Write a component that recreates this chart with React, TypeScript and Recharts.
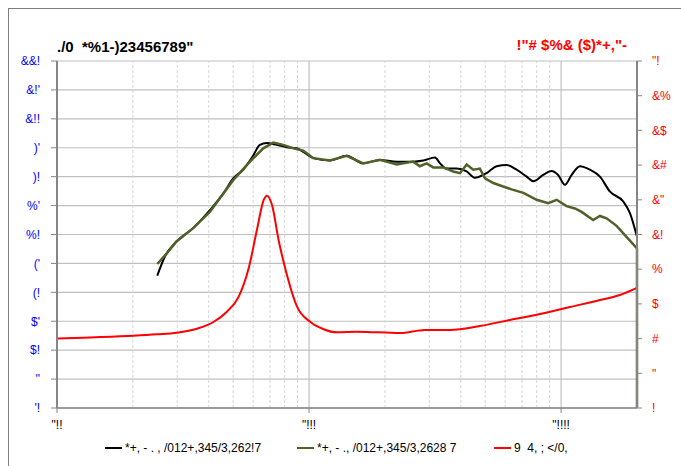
import React from "react";
import {
  CartesianGrid,
  ComposedChart,
  Line,
  ReferenceLine,
  XAxis,
  YAxis,
} from "recharts";

// frequency axis (log) ticks and their labels as shown
const xTicks = [100, 1000, 10000];
const xTickLabels = ['"!!', '"!!!', '"!!!!'];
const xMinor = [200, 300, 400, 500, 600, 700, 800, 900, 2000, 3000, 4000, 5000, 6000, 7000, 8000, 9000];

// left axis (level)
const leftTicks = [50, 55, 60, 65, 70, 75, 80, 85, 90, 95, 100, 105, 110];
const leftTickLabels = ["'!", "''", "$!", "$'", "(!", "('", "%!", "%'", ")!", ")'", "&!!", "&!'", "&&!"];

// right axis (impedance)
const rightTicks = [0, 2, 4, 6, 8, 10, 12, 14, 16, 18, 20];
const rightTickLabels = ["!", '"', "#", "$", "%", "&!", '&"', "&#", "&$", "&%", '"!'];

// series 1 (black)
const freqBlack = [250, 268, 298, 347, 404, 457, 500, 548, 601, 638, 679, 743, 815, 893, 948, 1040, 1210, 1410, 1640, 1910, 2230, 2590, 2840, 3160, 3310, 3510, 3850, 4220, 4550, 5060, 5550, 6080, 6660, 7300, 7750, 8490, 9160, 9730, 10350, 11010, 11880, 13010, 14260, 15630, 17640, 18750, 20000];
const splBlack = [72.9, 76.2, 78.8, 81.1, 84.2, 87.1, 89.7, 91.2, 93.7, 95.5, 95.8, 95.5, 95.1, 94.9, 94.3, 93.2, 92.8, 93.6, 92.3, 92.9, 92.6, 92.6, 92.8, 93.3, 92.3, 91.4, 91.4, 90.9, 89.8, 90.6, 91.8, 92.0, 91.2, 90.0, 89.2, 90.3, 91.0, 90.3, 88.6, 90.3, 91.8, 91.2, 90.0, 87.4, 85.7, 83.7, 79.6];

// series 2 (olive), last point drops to the floor
const freqGreen = [250, 272, 298, 347, 404, 500, 583, 658, 721, 790, 866, 948, 1040, 1210, 1410, 1640, 1910, 2230, 2590, 2750, 2930, 3110, 3410, 3730, 3970, 4220, 4480, 4760, 4990, 5380, 5890, 6360, 7080, 8000, 8890, 9600, 10510, 11340, 12060, 13400, 14260, 15150, 16600, 17910, 20000, 20000];
const splGreen = [74.9, 76.7, 78.8, 81.1, 83.9, 89.4, 92.6, 94.9, 95.9, 95.5, 94.9, 94.5, 93.2, 92.8, 93.6, 92.3, 92.9, 92.1, 92.6, 91.8, 92.3, 91.6, 91.6, 90.9, 90.6, 92.1, 91.2, 91.4, 89.7, 88.9, 88.3, 87.8, 87.2, 86.0, 85.4, 86.0, 84.9, 84.5, 83.9, 82.5, 83.2, 82.8, 81.5, 79.9, 77.6, 50];

// series 3 (red, right axis)
const freqImp = [100, 136, 201, 249, 299, 359, 419, 472, 526, 576, 621, 661, 681, 713, 757, 817, 896, 1010, 1143, 1291, 1549, 2294, 2882, 3623, 4760, 6265, 8240, 10830, 14260, 17100, 20000];
const imp = [4.0, 4.07, 4.17, 4.25, 4.34, 4.57, 4.97, 5.55, 6.42, 8.05, 10.26, 11.99, 12.24, 11.7, 9.68, 7.67, 5.84, 4.97, 4.54, 4.36, 4.4, 4.32, 4.5, 4.5, 4.73, 5.07, 5.42, 5.82, 6.22, 6.51, 6.92];

const leftTitle = "./0  *%1-)23456789\"";
const rightTitle = '!"# $%& ($)*+,"-';
const legendNames = ["*+, - . , /012+,345/3,262!7", "*+, - ., /012+,345/3,2628 7", "9  4, ; </0,"];
const colors = ["#000000", "#4F6228", "#FF0000"];

const font = "'Liberation Sans', Arial, sans-serif";

const zip = (xs: number[], ys: number[]) => xs.map((f, i) => ({ f, v: ys[i] }));
const label = (ticks: number[], labels: string[]) => (v: number) => labels[ticks.indexOf(v)] ?? "";

const blackData = zip(freqBlack, splBlack);
const greenData = zip(freqGreen, splGreen);
const impData = zip(freqImp, imp);

const legendX = [105, 297, 494];

export default function App() {
  return (
    <div
      style={{
        position: "fixed",
        left: 0,
        top: 0,
        width: 681,
        height: 466,
        overflow: "hidden",
        background: "#fff",
        fontFamily: font,
      }}
    >
      {/* outer frame, runs off the page on the right and bottom */}
      <div
        style={{
          position: "absolute",
          left: 8,
          top: 8,
          width: 720,
          height: 520,
          border: "1px solid #7f7f7f",
        }}
      />
      <div style={{ position: "absolute", left: 0, top: 0 }}>
        <ComposedChart width={681} height={466} margin={{ top: 61, right: 0, bottom: 28, left: 0 }}>
          <CartesianGrid yAxisId="left" stroke="#c0c0c0" strokeWidth={1.2} />
          {xMinor.map((f) => (
            <ReferenceLine key={f} x={f} yAxisId="left" stroke="#d6d6d6" strokeDasharray="3 2" />
          ))}
          <XAxis
            dataKey="f"
            type="number"
            scale="log"
            domain={[100, 20000]}
            ticks={xTicks}
            interval={0}
            tickFormatter={label(xTicks, xTickLabels)}
            height={30}
            tickSize={5}
            tickMargin={7}
            axisLine={{ stroke: "#868686", strokeWidth: 1.5 }}
            tickLine={{ stroke: "#868686" }}
            tick={{ fill: "#000", fontSize: 12, fontFamily: font }}
          />
          <YAxis
            yAxisId="left"
            orientation="left"
            type="number"
            domain={[50, 110]}
            ticks={leftTicks}
            interval={0}
            tickFormatter={label(leftTicks, leftTickLabels)}
            width={57}
            tickSize={6}
            tickMargin={11}
            axisLine={{ stroke: "#868686", strokeWidth: 2 }}
            tickLine={{ stroke: "#868686" }}
            tick={{ fill: "#0000FF", fontSize: 12, fontFamily: font }}
          />
          <YAxis
            yAxisId="right"
            orientation="right"
            type="number"
            domain={[0, 20]}
            ticks={rightTicks}
            interval={0}
            tickFormatter={label(rightTicks, rightTickLabels)}
            width={44}
            tickSize={5}
            tickMargin={10}
            axisLine={{ stroke: "#868686", strokeWidth: 2 }}
            tickLine={{ stroke: "#868686" }}
            tick={{ fill: "#FF0000", fontSize: 12, fontFamily: font, textAnchor: "start" }}
          />
          <Line
            data={impData}
            dataKey="v"
            yAxisId="right"
            type="monotone"
            stroke={colors[2]}
            strokeWidth={2}
            dot={false}
            isAnimationActive={false}
          />
          <Line
            data={blackData}
            dataKey="v"
            yAxisId="left"
            type="monotone"
            stroke={colors[0]}
            strokeWidth={2}
            dot={false}
            isAnimationActive={false}
          />
          <Line
            data={greenData}
            dataKey="v"
            yAxisId="left"
            type="linear"
            stroke={colors[1]}
            strokeWidth={2.5}
            dot={false}
            isAnimationActive={false}
          />
        </ComposedChart>
      </div>

      <div
        style={{
          position: "absolute",
          left: 57,
          top: 38,
          fontSize: 15,
          fontWeight: "bold",
          whiteSpace: "pre",
          color: "#000",
        }}
      >
        {leftTitle}
      </div>
      <div
        style={{
          position: "absolute",
          right: 681 - 627,
          top: 36,
          fontSize: 15,
          fontWeight: "bold",
          whiteSpace: "pre",
          color: "#FF0000",
        }}
      >
        {rightTitle}
      </div>

      {legendNames.map((name, i) => (
        <div
          key={name}
          style={{
            position: "absolute",
            left: legendX[i],
            top: 441,
            display: "flex",
            alignItems: "center",
            fontSize: 12,
            whiteSpace: "pre",
          }}
        >
          <span style={{ display: "inline-block", width: 17, height: 2, background: colors[i], marginRight: 3 }} />
          {name}
        </div>
      ))}
    </div>
  );
}
